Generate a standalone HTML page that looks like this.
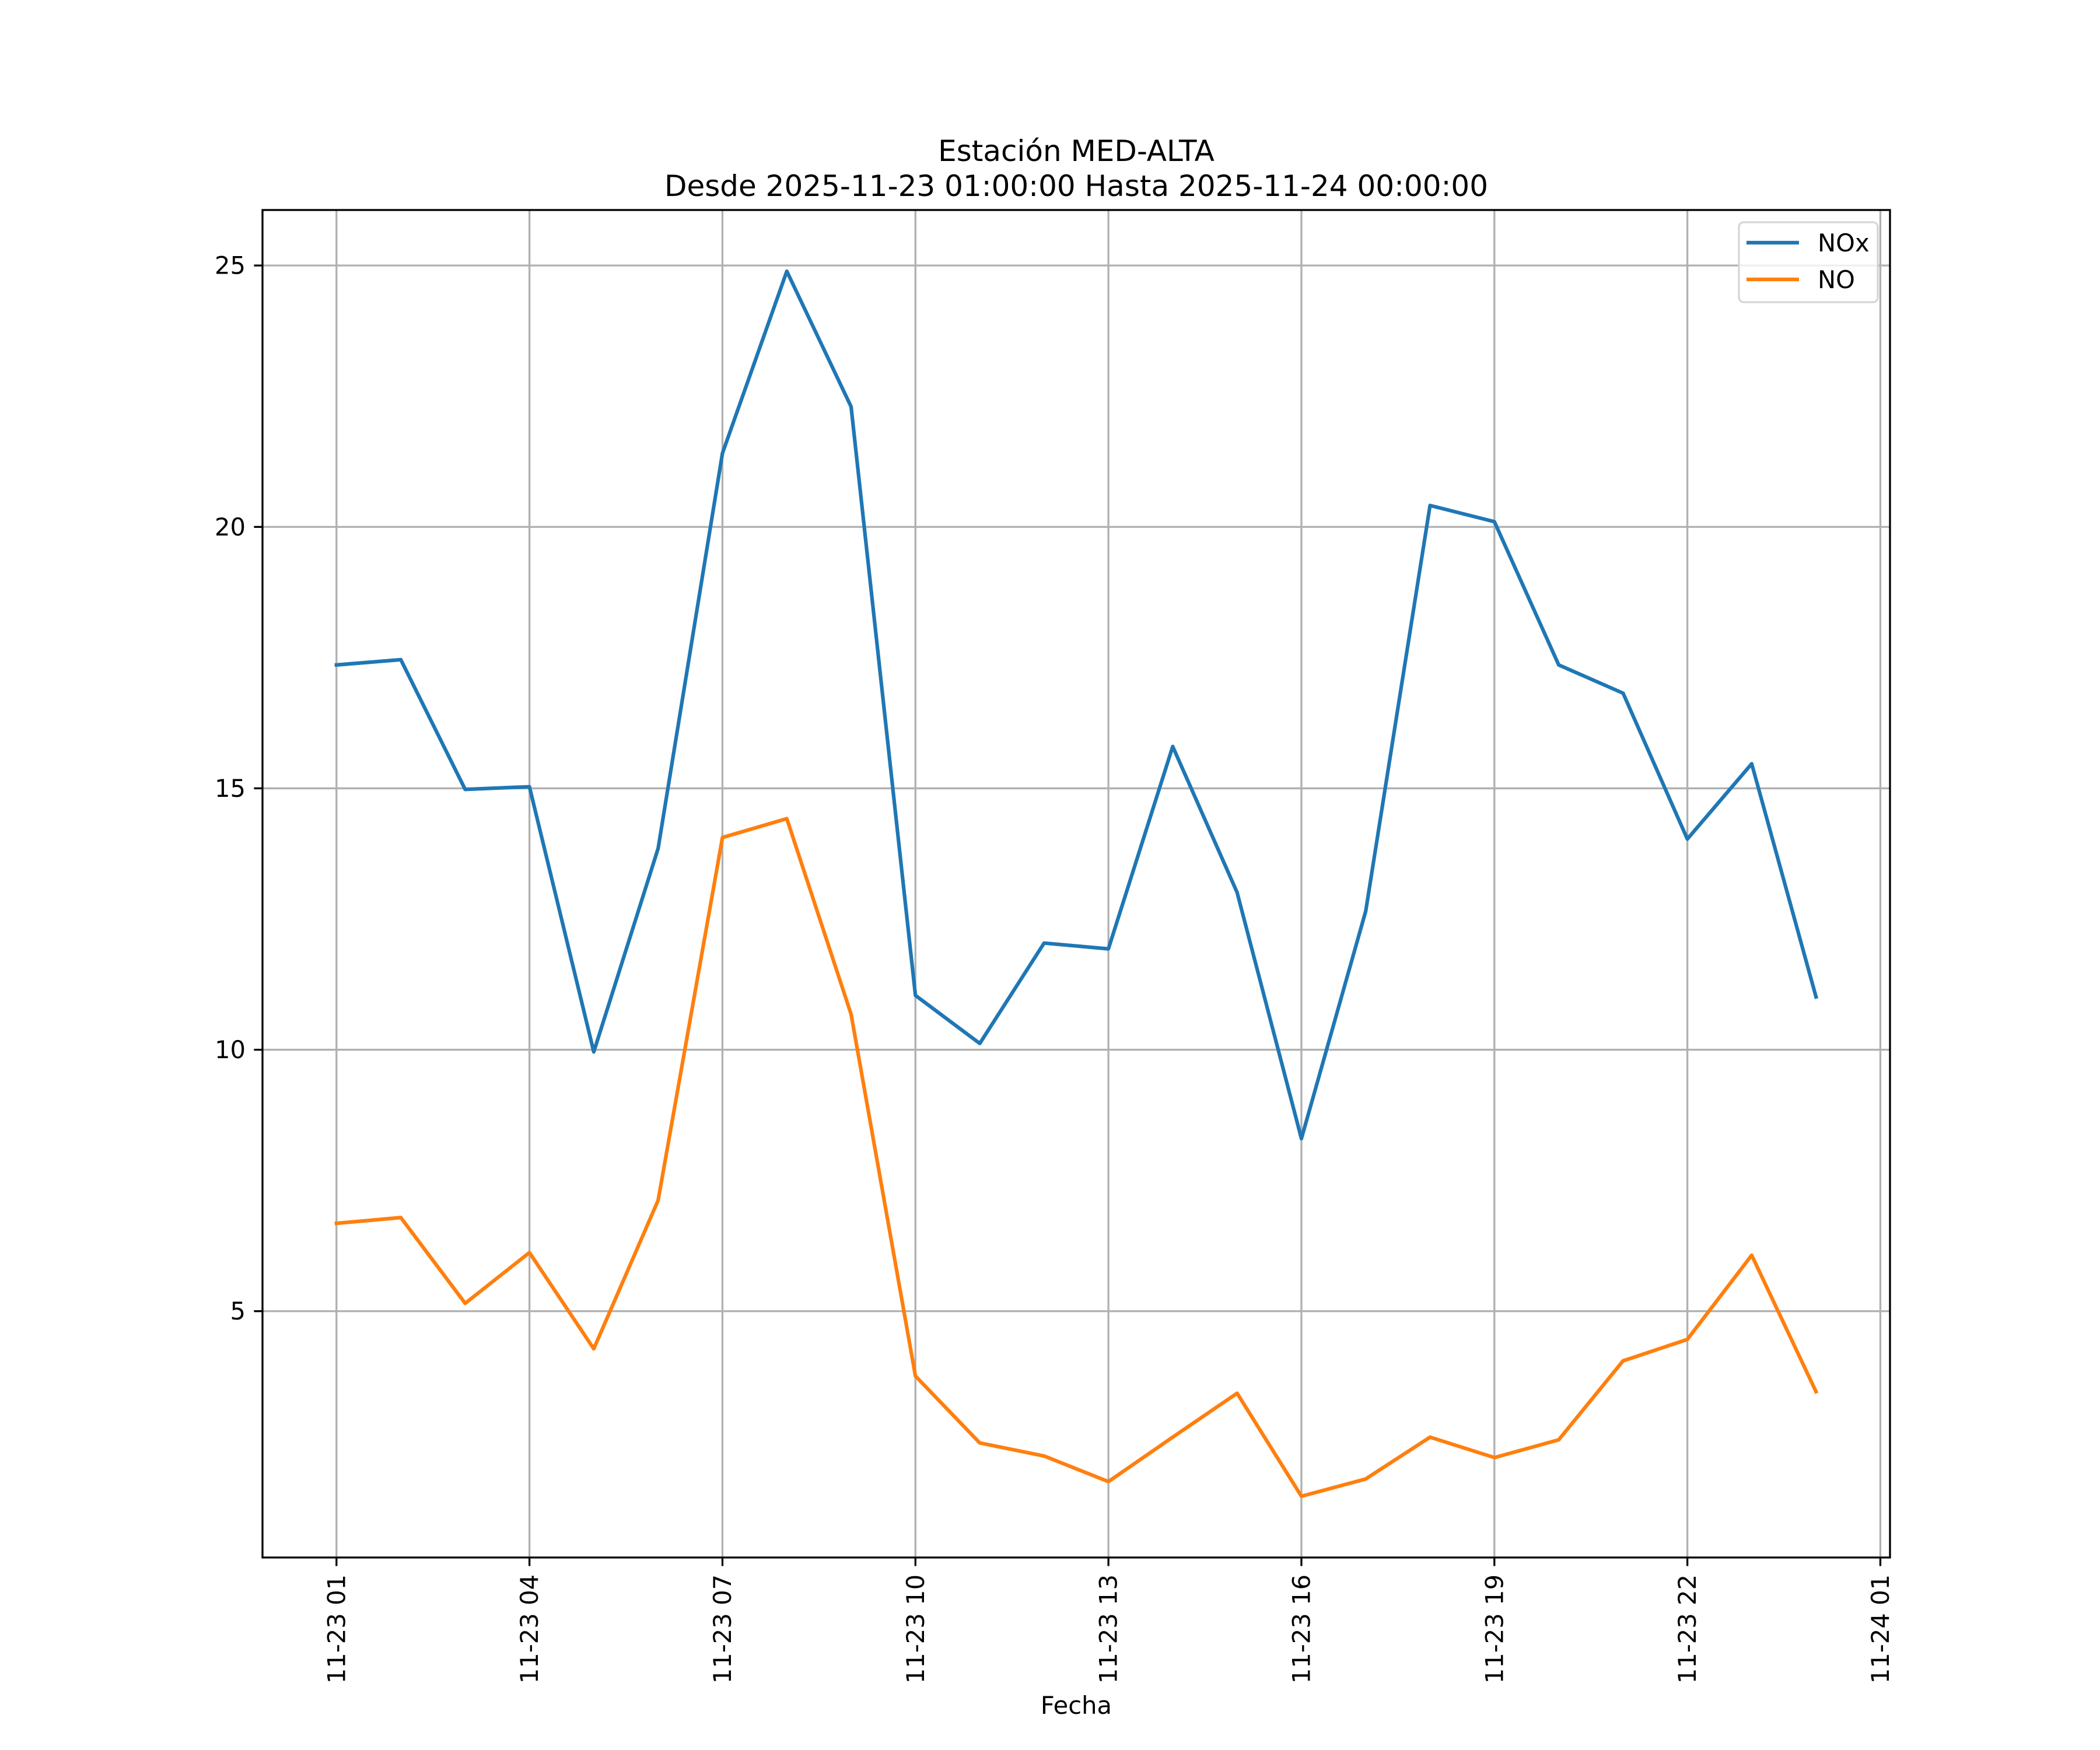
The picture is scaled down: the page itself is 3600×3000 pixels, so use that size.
<!DOCTYPE html>
<html><head><meta charset="utf-8"><style>html,body{margin:0;padding:0;background:#fff}svg{display:block}</style></head>
<body>
<svg id="chart" xmlns="http://www.w3.org/2000/svg" width="3600" height="3000" viewBox="0 0 3600 3000" font-family="DejaVu Sans, Liberation Sans, sans-serif">
<rect width="3600" height="3000" fill="#fff"/>
<g id="grid"></g>
<g id="series"></g>
<rect x="450" y="360" width="2790" height="2310" fill="none" stroke="#000" stroke-width="3.3"/>
<g id="ticks"></g>
<text x="1845" y="276" font-size="50" text-anchor="middle">Estación MED-ALTA</text>
<text x="1845" y="336" font-size="50" text-anchor="middle">Desde 2025-11-23 01:00:00 Hasta 2025-11-24 00:00:00</text>
<text x="1845" y="2938" font-size="41.67" text-anchor="middle">Fecha</text>
<g>
<rect x="2981" y="381" width="238" height="137" rx="8" fill="#fff" fill-opacity="0.8" stroke="#d6d6d6" stroke-width="3.3"/>
<line x1="2994" y1="416" x2="3084" y2="416" stroke="#1f77b4" stroke-width="6.25"/>
<text x="3116" y="431" font-size="41.67">NOx</text>
<line x1="2994" y1="479" x2="3084" y2="479" stroke="#ff7f0e" stroke-width="6.25"/>
<text x="3116" y="494" font-size="41.67">NO</text>
</g>
</svg>
<script>
const hours = [1,2,3,4,5,6,7,8,9,10,11,12,13,14,15,16,17,18,19,20,21,22,23,24];
const noxValues = [17.36,17.46,14.98,15.03,9.96,13.85,21.41,24.89,22.30,11.04,10.12,12.04,11.93,15.80,13.01,8.30,12.65,20.41,20.10,17.36,16.82,14.03,15.47,11.01];
const noValues = [6.68,6.79,5.15,6.12,4.28,7.12,14.06,14.42,10.68,3.76,2.48,2.23,1.74,2.59,3.43,1.46,1.79,2.59,2.20,2.54,4.05,4.46,6.07,3.46];
const xTickHours = [1,4,7,10,13,16,19,22,25];
const xTickLabels = ["11-23 01","11-23 04","11-23 07","11-23 10","11-23 13","11-23 16","11-23 19","11-23 22","11-24 01"];
const yTicks = [5,10,15,20,25];

const NS = "http://www.w3.org/2000/svg";
const L=450,R=3240,T=360,B=2670;
const all = noxValues.concat(noValues);
const dmin=Math.min(...all), dmax=Math.max(...all), dr=dmax-dmin;
const ymin=dmin-0.05*dr, ymax=dmax+0.05*dr;
const hmin=hours[0], hmax=hours[hours.length-1], hr=hmax-hmin;
const xmin=hmin-0.05*hr, xmax=hmax+0.05*hr;
function xs(h){return L+(h-xmin)/(xmax-xmin)*(R-L);}
function ys(v){return B-(v-ymin)/(ymax-ymin)*(B-T);}
function mk(tag,attrs,parent){const e=document.createElementNS(NS,tag);for(const k in attrs)e.setAttribute(k,attrs[k]);parent.appendChild(e);return e;}
const grid=document.getElementById('grid'), ticks=document.getElementById('ticks'), series=document.getElementById('series');

xTickHours.forEach((h,i)=>{
  const x=xs(h);
  if(x<=R){
    const g=mk('line',{x1:x,y1:T,x2:x,y2:B,stroke:'#b0b0b0','stroke-width':3.3},grid);
    
    
  }
  const t=mk('line',{x1:x,y1:B,x2:x,y2:B+14.6,stroke:'#000','stroke-width':3.3},ticks);
  
  
  const lab=mk('text',{x:x,y:B+29,'font-size':41.67,'text-anchor':'end','dominant-baseline':'central',transform:`rotate(-90 ${x} ${B+29})`},ticks);
  lab.textContent=xTickLabels[i];
  
  
});
yTicks.forEach(v=>{
  const y=ys(v);
  const g=mk('line',{x1:L,y1:y,x2:R,y2:y,stroke:'#b0b0b0','stroke-width':3.3},grid);
  
  
  const t=mk('line',{x1:L-14.6,y1:y,x2:L,y2:y,stroke:'#000','stroke-width':3.3},ticks);
  
  
  const lab=mk('text',{x:L-29,y:y,'font-size':41.67,'text-anchor':'end','dominant-baseline':'central'},ticks);
  lab.textContent=String(v);
  
  
});
function line(vals,color,name){
  const d=vals.map((v,i)=>(i?'L':'M')+xs(hours[i]).toFixed(1)+' '+ys(v).toFixed(1)).join(' ');
  const p=mk('path',{d:d,fill:'none',stroke:color,'stroke-width':6.25,'stroke-linejoin':'round','stroke-linecap':'square'},series);
  
  
}
line(noxValues,'#1f77b4','nox-line');
line(noValues,'#ff7f0e','no-line');
</script>
</body></html>
